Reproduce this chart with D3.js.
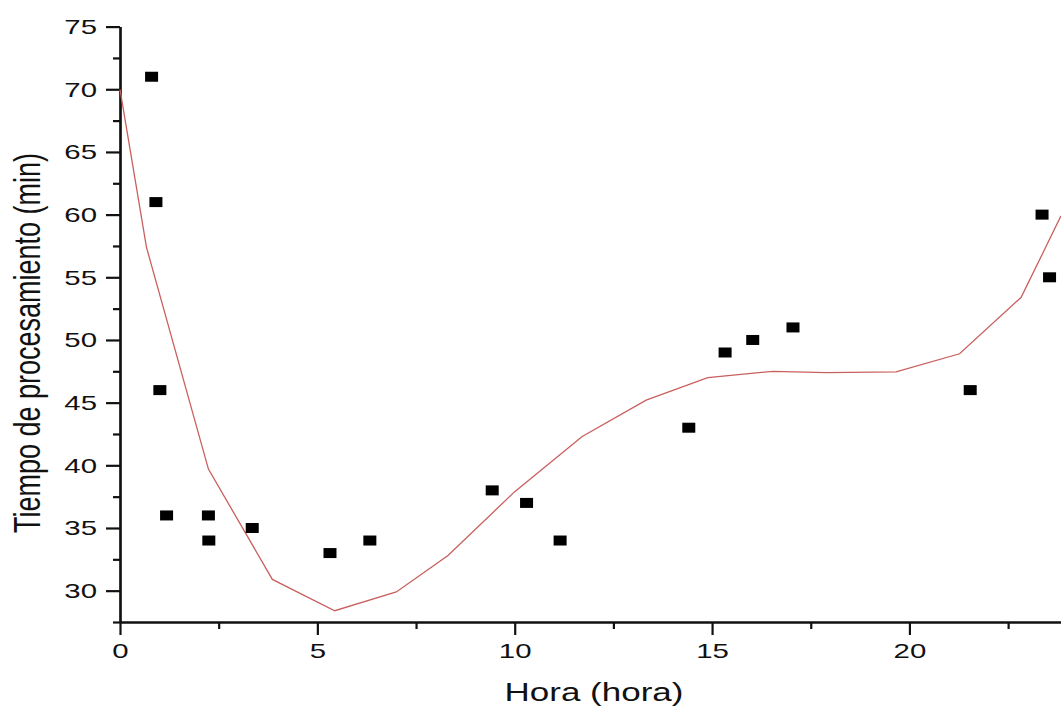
<!DOCTYPE html>
<html>
<head>
<meta charset="utf-8">
<script src="https://cdn.jsdelivr.net/npm/d3@7"></script>
<style>
  body { margin: 0; background: #fff; }
  text { font-family: "Liberation Sans", Arial, sans-serif; fill: #111; }
</style>
</head>
<body>
<script>
// datos medidos
var hora   = [0.80, 0.91, 1.01, 1.18, 2.24, 2.25, 3.35, 5.32, 6.33, 9.43, 10.30, 11.15, 14.41, 15.33, 16.03, 17.05, 21.54, 23.36, 23.55];
var tiempo = [71, 61, 46, 36, 36, 34, 35, 33, 34, 38, 37, 34, 43, 49, 50, 51, 46, 60, 55];

// curva de ajuste
var ajusteHora   = [0, 0.67, 2.24, 3.86, 5.44, 7.0, 8.31, 10.0, 11.71, 13.33, 14.89, 16.54, 17.9, 19.66, 21.27, 22.83, 23.84];
var ajusteTiempo = [70, 57.4, 39.7, 30.9, 28.4, 29.9, 32.8, 37.9, 42.3, 45.2, 47.0, 47.5, 47.4, 47.45, 48.9, 53.4, 59.9];

var xMajor = [0, 5, 10, 15, 20];
var xMinor = [2.5, 7.5, 12.5, 17.5, 22.5];
var yMajor = [30, 35, 40, 45, 50, 55, 60, 65, 70, 75];
var yMinor = [27.5, 32.5, 37.5, 42.5, 47.5, 52.5, 57.5, 62.5, 67.5, 72.5];

var width = 1061, height = 709;
var stretch = 1.4;

var x = d3.scaleLinear().domain([0, 23.84]).range([120, 1061]);
var y = d3.scaleLinear().domain([27.5, 75]).range([622, 26.6]);

var svg = d3.select("body").append("svg")
    .attr("width", width).attr("height", height);

// ejes
var xAxis = d3.axisBottom(x).tickValues(xMajor).tickSize(13).tickPadding(8).tickSizeOuter(0);
var xAxisMinor = d3.axisBottom(x).tickValues(xMinor).tickSize(7).tickFormat("").tickSizeOuter(0);
var yAxis = d3.axisLeft(y).tickValues(yMajor).tickSize(14).tickPadding(9).tickSizeOuter(0);
var yAxisMinor = d3.axisLeft(y).tickValues(yMinor).tickSize(7).tickFormat("").tickSizeOuter(0);

svg.append("g").attr("transform", "translate(0,622)").call(xAxisMinor);
var gx = svg.append("g").attr("class", "x axis").attr("transform", "translate(0,622)").call(xAxis);
svg.append("g").attr("transform", "translate(120,0)").call(yAxisMinor);
var gy = svg.append("g").attr("class", "y axis").attr("transform", "translate(120,0)").call(yAxis);

svg.selectAll(".domain, .tick line")
    .attr("stroke", "#111").attr("stroke-width", 2.2);

gx.selectAll("text")
    .attr("font-size", "21px")
    .attr("transform", "scale(" + stretch + ",1)");

gy.selectAll("text")
    .attr("font-size", "21px")
    .attr("x", -23 / stretch)
    .attr("transform", "scale(" + stretch + ",1)");

// curva
var ajuste = ajusteHora.map(function(d, i){ return [d, ajusteTiempo[i]]; });
var line = d3.line()
    .x(function(d){ return x(d[0]); })
    .y(function(d){ return y(d[1]); });

svg.append("path")
    .datum(ajuste)
    .attr("d", line)
    .attr("fill", "none")
    .attr("stroke", "#c8605e")
    .attr("stroke-width", 1.3);

// puntos
var puntos = hora.map(function(d, i){ return {hora: d, tiempo: tiempo[i]}; });
svg.selectAll("rect.punto").data(puntos)
    .enter().append("rect")
    .attr("class", "punto")
    .attr("x", function(d){ return x(d.hora) - 6.5; })
    .attr("y", function(d){ return y(d.tiempo) - 5; })
    .attr("width", 13)
    .attr("height", 10)
    .attr("fill", "#000");

// titulos
svg.append("text")
    .attr("transform", "translate(594,701) scale(" + stretch + ",1)")
    .attr("text-anchor", "middle")
    .attr("font-size", "25px")
    .text("Hora (hora)");

svg.append("text")
    .attr("transform", "translate(40,343) scale(" + stretch + ",1) rotate(-90)")
    .attr("text-anchor", "middle")
    .attr("font-size", "27px")
    .text("Tiempo de procesamiento (min)");
</script>
</body>
</html>
